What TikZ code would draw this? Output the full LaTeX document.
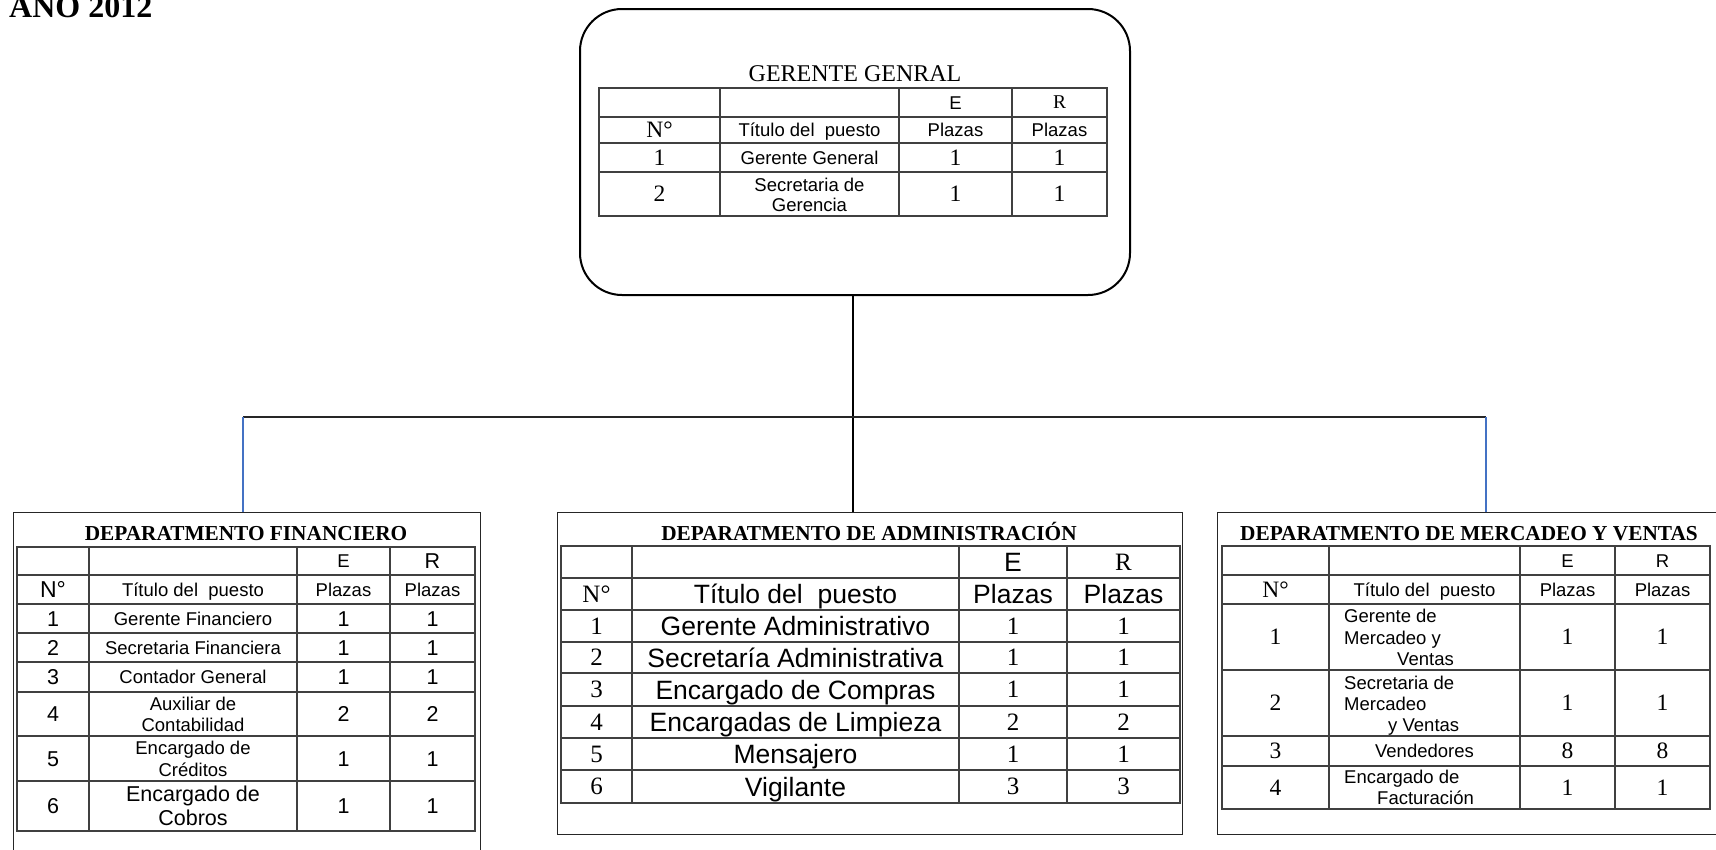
\documentclass[tikz,border=0pt]{standalone}
\usepackage{fontspec}
\setmainfont{Liberation Serif}
\newfontfamily\sansf{Liberation Sans}
\newfontfamily\seriff{Liberation Serif}
\definecolor{linkblue}{RGB}{68,114,196}
\tikzset{
 txt/.style={inner sep=0pt, text depth=0pt, anchor=center},
 sA/.style={txt, font=\sansf\fontsize{18.5}{21}\selectfont, text height=13.2pt},
 sAw/.style={sA, anchor=west},
 sB/.style={txt, font=\sansf\fontsize{21.5}{24}\selectfont, text height=15.4pt},
 sN/.style={txt, font=\sansf\fontsize{23}{26}\selectfont, text height=16.5pt},
 sC/.style={txt, font=\sansf\fontsize{26.5}{30}\selectfont, text height=19pt},
 rA/.style={txt, font=\seriff\fontsize{19.5}{22}\selectfont, text height=12.9pt},
 rB/.style={txt, font=\seriff\fontsize{23.5}{26}\selectfont, text height=15.6pt},
 rC/.style={txt, font=\seriff\fontsize{25}{28}\selectfont, text height=16.5pt},
 rG/.style={txt, font=\seriff\fontsize{24}{27}\selectfont, text height=15.9pt},
 ttl/.style={txt, font=\seriff\bfseries\fontsize{21.3}{24}\selectfont, text height=14.1pt},
 bigttl/.style={inner sep=0pt, font=\seriff\bfseries\fontsize{32}{36}\selectfont},
 gridline/.style={line width=1.4pt, draw=black!75},
 dept/.style={draw=black!85, line width=1pt, inner sep=0pt},
 conn/.style={line width=2pt, draw=black},
 hline/.style={line width=2.2pt, draw=black!85},
 bluelink/.style={line width=1.2pt, draw=linkblue},
}
\begin{document}
\begin{tikzpicture}[x=1pt,y=-1pt]
\useasboundingbox (0,0) rectangle (1716,849);
\clip (0,0) rectangle (1716,849);
\fill[white] (0,0) rectangle (1716,849);

\node[bigttl, anchor=base west] (anio) at (9,17) {AÑO 2012};

% boxes
\node[draw, line width=2pt, rounded corners=42pt, minimum width=550pt, minimum height=286pt, inner sep=0pt] (gg) at (855,152) {};
\node[dept, minimum width=467pt, minimum height=400pt] (fin) at (246.5,712) {};
\node[dept, minimum width=625pt, minimum height=322pt] (adm) at (869.5,673) {};
\node[dept, minimum width=560pt, minimum height=322pt] (mer) at (1497,673) {};

% connectors
\coordinate (hl) at (243,417);
\coordinate (hr) at (1486,417);
\coordinate (ggb) at ([xshift=-2pt]gg.south);
\draw[conn] (ggb) -- (ggb |- adm.north);
\draw[hline] (hl) -- (hr);
\draw[bluelink] (hl) -- (hl |- fin.north);
\draw[bluelink] (hr) -- (hr |- mer.north);

% ---------- top table ----------
\node[rG] (ggt) at (855,73.5) {GERENTE GENRAL};
\draw[gridline] (599,88) rectangle (1107,216);
\foreach \y in {117,143,172} \draw[gridline] (599,\y) -- (1107,\y);
\foreach \x in {720,899,1012} \draw[gridline] (\x,88) -- (\x,216);
\node[sA] (gE) at (955.5,102.5) {E};
\node[rA] (gR) at (1059.5,102.5) {R};
\node[rB] (gN) at (659.5,130) {N°};
\node[sA] (gT) at (809.5,130) {Título del\ \ puesto};
\node[sA] (gP1) at (955.5,130) {Plazas};
\node[sA] (gP2) at (1059.5,130) {Plazas};
\node[rB] (g1n) at (659.5,157.5) {1};
\node[sA] (g1t) at (809.5,157.5) {Gerente General};
\node[rB] (g1e) at (955.5,157.5) {1};
\node[rB] (g1r) at (1059.5,157.5) {1};
\node[rB] (g2n) at (659.5,194) {2};
\node[sA] (g2a) at (809.5,184.5) {Secretaria de};
\node[sA] (g2b) at (809.5,205) {Gerencia};
\node[rB] (g2e) at (955.5,194) {1};
\node[rB] (g2r) at (1059.5,194) {1};

% ---------- financiero ----------
\node[ttl] (ft) at (246,533) {DEPARATMENTO FINANCIERO};
\draw[gridline] (17,547) rectangle (475,831);
\foreach \y in {575,604,633,662,692,736,781} \draw[gridline] (17,\y) -- (475,\y);
\foreach \x in {89,297,390} \draw[gridline] (\x,547) -- (\x,831);
\node[sA] (fE) at (343.5,561) {E};
\node[sB] (fR) at (432.5,561) {R};
\node[sN] (fN) at (53,589.5) {N°};
\node[sA] (fT) at (193,589.5) {Título del\ \ puesto};
\node[sA] (fP1) at (343.5,589.5) {Plazas};
\node[sA] (fP2) at (432.5,589.5) {Plazas};
\node[sB] (f1n) at (53,618.5) {1};
\node[sA] (f1t) at (193,618.5) {Gerente Financiero};
\node[sB] (f1e) at (343.5,618.5) {1};
\node[sB] (f1r) at (432.5,618.5) {1};
\node[sB] (f2n) at (53,647.5) {2};
\node[sA] (f2t) at (193,647.5) {Secretaria Financiera};
\node[sB] (f2e) at (343.5,647.5) {1};
\node[sB] (f2r) at (432.5,647.5) {1};
\node[sB] (f3n) at (53,677) {3};
\node[sA] (f3t) at (193,677) {Contador General};
\node[sB] (f3e) at (343.5,677) {1};
\node[sB] (f3r) at (432.5,677) {1};
\node[sB] (f4n) at (53,714) {4};
\node[sA] (f4a) at (193,703.5) {Auxiliar de};
\node[sA] (f4b) at (193,724.5) {Contabilidad};
\node[sB] (f4e) at (343.5,714) {2};
\node[sB] (f4r) at (432.5,714) {2};
\node[sB] (f5n) at (53,758.5) {5};
\node[sA] (f5a) at (193,747.5) {Encargado de};
\node[sA] (f5b) at (193,769.5) {Créditos};
\node[sB] (f5e) at (343.5,758.5) {1};
\node[sB] (f5r) at (432.5,758.5) {1};
\node[sB] (f6n) at (53,806) {6};
\node[sB] (f6a) at (193,794) {Encargado de};
\node[sB] (f6b) at (193,817.5) {Cobros};
\node[sB] (f6e) at (343.5,806) {1};
\node[sB] (f6r) at (432.5,806) {1};

% ---------- administracion ----------
\node[ttl] (at) at (869,533) {DEPARATMENTO DE ADMINISTRACIÓN};
\draw[gridline] (561,546) rectangle (1180,803);
\foreach \y in {578,610,642,673,706,738,770} \draw[gridline] (561,\y) -- (1180,\y);
\foreach \x in {632,959,1067} \draw[gridline] (\x,546) -- (\x,803);
\node[sC] (aE) at (1013,562) {E};
\node[rC] (aR) at (1123.5,562) {R};
\node[rC] (aN) at (596.5,594) {N°};
\node[sC] (aT) at (795.5,594) {Título del\ \ puesto};
\node[sC] (aP1) at (1013,594) {Plazas};
\node[sC] (aP2) at (1123.5,594) {Plazas};
\node[rC] (a1n) at (596.5,626) {1};
\node[sC] (a1t) at (795.5,626) {Gerente Administrativo};
\node[rC] (a1e) at (1013,626) {1};
\node[rC] (a1r) at (1123.5,626) {1};
\node[rC] (a2n) at (596.5,657.5) {2};
\node[sC] (a2t) at (795.5,657.5) {Secretaría Administrativa};
\node[rC] (a2e) at (1013,657.5) {1};
\node[rC] (a2r) at (1123.5,657.5) {1};
\node[rC] (a3n) at (596.5,689.5) {3};
\node[sC] (a3t) at (795.5,689.5) {Encargado de Compras};
\node[rC] (a3e) at (1013,689.5) {1};
\node[rC] (a3r) at (1123.5,689.5) {1};
\node[rC] (a4n) at (596.5,722) {4};
\node[sC] (a4t) at (795.5,722) {Encargadas de Limpieza};
\node[rC] (a4e) at (1013,722) {2};
\node[rC] (a4r) at (1123.5,722) {2};
\node[rC] (a5n) at (596.5,754) {5};
\node[sC] (a5t) at (795.5,754) {Mensajero};
\node[rC] (a5e) at (1013,754) {1};
\node[rC] (a5r) at (1123.5,754) {1};
\node[rC] (a6n) at (596.5,786.5) {6};
\node[sC] (a6t) at (795.5,786.5) {Vigilante};
\node[rC] (a6e) at (1013,786.5) {3};
\node[rC] (a6r) at (1123.5,786.5) {3};

% ---------- mercadeo ----------
\node[ttl] (mt) at (1469,533) {DEPARATMENTO DE MERCADEO Y VENTAS};
\draw[gridline] (1222,546) rectangle (1710,809);
\foreach \y in {575,604,670,736,766} \draw[gridline] (1222,\y) -- (1710,\y);
\foreach \x in {1329,1520,1615} \draw[gridline] (\x,546) -- (\x,809);
\node[sA] (mE) at (1567.5,560.5) {E};
\node[sA] (mR) at (1662.5,560.5) {R};
\node[rB] (mN) at (1275.5,589.5) {N°};
\node[sA] (mT) at (1424.5,589.5) {Título del\ \ puesto};
\node[sA] (mP1) at (1567.5,589.5) {Plazas};
\node[sA] (mP2) at (1662.5,589.5) {Plazas};
\node[rB] (m1n) at (1275.5,637) {1};
\node[sAw] (m1a) at (1344,616) {Gerente de};
\node[sAw] (m1b) at (1344,638) {Mercadeo y};
\node[sAw] (m1c) at (1397,659) {Ventas};
\node[rB] (m1e) at (1567.5,637) {1};
\node[rB] (m1r) at (1662.5,637) {1};
\node[rB] (m2n) at (1275.5,703) {2};
\node[sAw] (m2a) at (1344,683) {Secretaria de};
\node[sAw] (m2b) at (1344,704) {Mercadeo};
\node[sAw] (m2c) at (1388,725) {y Ventas};
\node[rB] (m2e) at (1567.5,703) {1};
\node[rB] (m2r) at (1662.5,703) {1};
\node[rB] (m3n) at (1275.5,751) {3};
\node[sA] (m3t) at (1424.5,751) {Vendedores};
\node[rB] (m3e) at (1567.5,751) {8};
\node[rB] (m3r) at (1662.5,751) {8};
\node[rB] (m4n) at (1275.5,787.5) {4};
\node[sAw] (m4a) at (1344,777) {Encargado de};
\node[sAw] (m4b) at (1377,798) {Facturación};
\node[rB] (m4e) at (1567.5,787.5) {1};
\node[rB] (m4r) at (1662.5,787.5) {1};
\end{tikzpicture}
\end{document}
